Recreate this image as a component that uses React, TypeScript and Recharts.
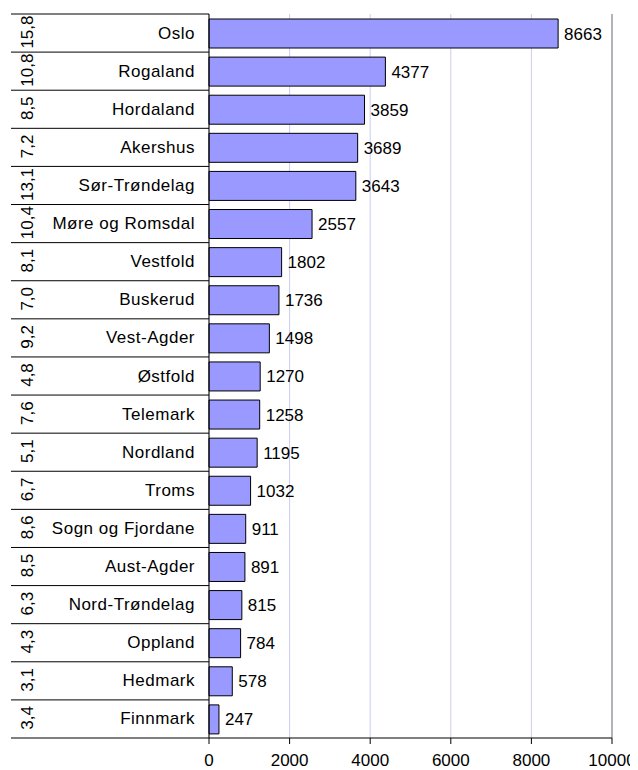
import React from "react";
import { Bar, BarChart, CartesianGrid, LabelList, ReferenceLine, XAxis, YAxis } from "recharts";

const regions = [
  "Oslo",
  "Rogaland",
  "Hordaland",
  "Akershus",
  "Sør-Trøndelag",
  "Møre og Romsdal",
  "Vestfold",
  "Buskerud",
  "Vest-Agder",
  "Østfold",
  "Telemark",
  "Nordland",
  "Troms",
  "Sogn og Fjordane",
  "Aust-Agder",
  "Nord-Trøndelag",
  "Oppland",
  "Hedmark",
  "Finnmark",
];
const counts = [8663, 4377, 3859, 3689, 3643, 2557, 1802, 1736, 1498, 1270, 1258, 1195, 1032, 911, 891, 815, 784, 578, 247];
const shares = [15.8, 10.8, 8.5, 7.2, 13.1, 10.4, 8.1, 7.0, 9.2, 4.8, 7.6, 5.1, 6.7, 8.6, 8.5, 6.3, 4.3, 3.1, 3.4];
const xTicks = [0, 2000, 4000, 6000, 8000, 10000];

const data = regions.map((name, i) => ({ name, count: counts[i], share: shares[i] }));

const W = 630;
const H = 762;
const MARGIN = { top: 6, right: 26, bottom: 2, left: 0 };
const Y_W = 201;
const X_H = 30;
const BAND = (H - MARGIN.top - MARGIN.bottom - X_H) / regions.length;
const FONT = 17;

function RegionTick(props: any) {
  const { y, payload, index } = props;
  const row = data[index] ?? data.find((d) => d.name === payload.value);
  const top = y - BAND / 2;
  const bottom = y + BAND / 2;
  return (
    <g>
      <line x1={3} x2={Y_W} y1={top} y2={top} stroke="#000" strokeWidth={1} />
      {index === regions.length - 1 && (
        <line x1={3} x2={Y_W} y1={bottom} y2={bottom} stroke="#000" strokeWidth={1} />
      )}
      <text
        x={187}
        y={y}
        textAnchor="end"
        dominantBaseline="central"
        fontSize={FONT}
        letterSpacing={0.5}
        fill="#000"
      >
        {payload.value}
      </text>
      <text
        x={0}
        y={0}
        transform={`translate(19, ${y - 1}) rotate(-90)`}
        textAnchor="middle"
        dominantBaseline="central"
        fontSize={FONT}
        fill="#000"
      >
        {row ? row.share.toFixed(1).replace(".", ",") : ""}
      </text>
    </g>
  );
}

export default function App() {
  return (
    <div style={{ width: W, height: H, fontFamily: "'Liberation Sans', Arial, sans-serif", background: "#fff" }}>
      <BarChart width={W} height={H} data={data} layout="vertical" margin={MARGIN}>
        <CartesianGrid horizontal={false} stroke="#ccccf5" strokeWidth={1} />
        <XAxis
          type="number"
          dataKey="count"
          domain={[0, 10000]}
          ticks={xTicks}
          height={X_H}
          tickSize={6}
          tickMargin={10}
          axisLine={{ stroke: "#000" }}
          tickLine={{ stroke: "#000" }}
          tick={{ fill: "#000", fontSize: FONT }}
          interval={0}
        />
        <XAxis
          xAxisId="top"
          orientation="top"
          type="number"
          domain={[0, 10000]}
          height={0}
          tick={false}
          tickLine={false}
          axisLine={{ stroke: "#808080" }}
        />
        <YAxis
          type="category"
          dataKey="name"
          width={Y_W}
          axisLine={{ stroke: "#000" }}
          tickLine={false}
          tick={<RegionTick />}
          interval={0}
        />
        <ReferenceLine x={10000} stroke="#808080" />
        <Bar dataKey="count" fill="#9999ff" stroke="#000" strokeWidth={1} barSize={29} isAnimationActive={false}>
          <LabelList dataKey="count" position="right" offset={6} fill="#000" fontSize={FONT} />
        </Bar>
      </BarChart>
    </div>
  );
}
